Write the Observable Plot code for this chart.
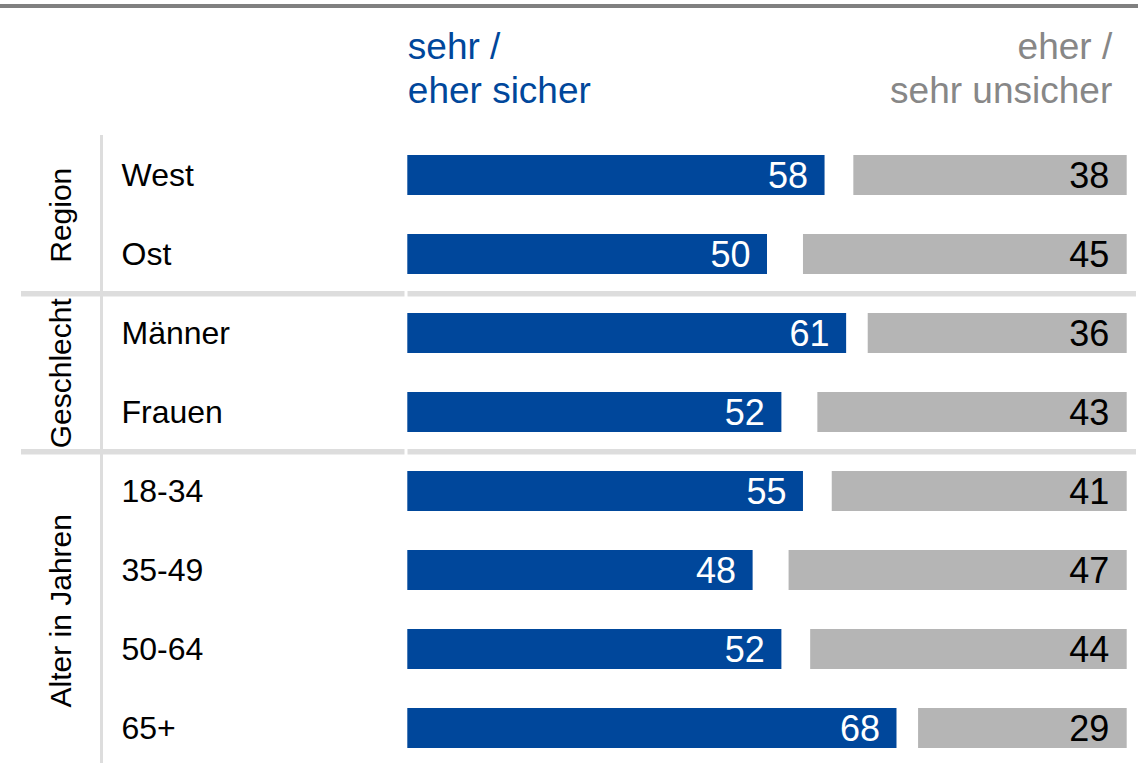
<!DOCTYPE html>
<html><head><meta charset="utf-8">
<script src="https://cdn.jsdelivr.net/npm/d3@7"></script>
<script src="https://cdn.jsdelivr.net/npm/@observablehq/plot@0.6"></script>
<style>
body{margin:0;background:#fff;}
#wrap{position:relative;width:1143px;height:763px;overflow:hidden;}
#topline{position:absolute;left:0;top:4px;width:1138px;height:3.5px;background:#808080;}
#chart svg{position:absolute;left:0;top:0;}
</style></head><body>
<div id="wrap"><div id="topline"></div><div id="chart"></div></div>
<script>
const categories = ["West","Ost","Männer","Frauen","18-34","35-49","50-64","65+"];
const sicher = [58,50,61,52,55,48,52,68];
const unsicher = [38,45,36,43,41,47,44,29];
const groups = ["Region","Geschlecht","Alter in Jahren"];
const groupFirst = ["West","Männer","18-34"];
const groupSize = [2,2,4];
const headerSicher = "sehr /\neher sicher";
const headerUnsicher = "eher /\nsehr unsicher";

const rows = categories.map((c,i)=>({cat:c, pos:sicher[i], neg:unsicher[i]}));
const yRange = [133.5, 769.5];
const step = (yRange[1]-yRange[0])/categories.length;
const blue = "#00479b", gray = "#b5b5b5", sep = "#dddddd", headGray = "#878787";
const font = "'Liberation Sans', Arial, sans-serif";

const chart = Plot.plot({
  width: 1143, height: 763,
  marginTop: 135, marginBottom: 0, marginLeft: 0, marginRight: 0,
  style: {fontFamily: font, background: "transparent", overflow: "visible"},
  x: {domain: [0, 100], range: [407.3, 1126.7], axis: null},
  y: {domain: categories, range: yRange, paddingInner: 0.5, paddingOuter: 0.25, axis: null},
  marks: [
    Plot.ruleY(groupFirst.slice(1), {dy: -step/2, stroke: sep, strokeWidth: 5.5, insetLeft: 21, insetRight: 1143-404.5}),
    Plot.ruleY(groupFirst.slice(1), {dy: -step/2, stroke: sep, strokeWidth: 5.5, insetLeft: 407.5, insetRight: 7}),
    Plot.ruleX([0], {dx: -306.3, stroke: sep, strokeWidth: 3}),
    ...groups.map((g,i)=>Plot.text([g], {
      text: d=>d, y: [groupFirst[i]], dy: (groupSize[i]-1)*step/2,
      frameAnchor: "left", dx: 61, rotate: -90, textAnchor: "middle", lineAnchor: "middle",
      fontSize: 30, fill: "#000"
    })),
    Plot.text(categories, {text: d=>d, y: d=>d, frameAnchor: "left", dx: 121, textAnchor: "start", fontSize: 32, fill: "#000"}),
    Plot.barX(rows, {x1: 0, x2: "pos", y: "cat", fill: blue}),
    Plot.barX(rows, {x1: d=>100-d.neg, x2: 100, y: "cat", fill: gray}),
    Plot.text(rows, {x: "pos", y: "cat", text: d=>String(d.pos), textAnchor: "end", dx: -17, dy: 1, fill: "#fff", fontSize: 36}),
    Plot.text(rows, {x: 100, y: "cat", text: d=>String(d.neg), textAnchor: "end", dx: -18, dy: 1, fill: "#000", fontSize: 36}),
    Plot.text([headerSicher], {text: d=>d, x: 0, frameAnchor: "top", textAnchor: "start", lineAnchor: "top", dy: 27-135, lineHeight: 1.2, fill: blue, fontSize: 37}),
    Plot.text([headerUnsicher], {text: d=>d, x: 100, frameAnchor: "top", textAnchor: "end", lineAnchor: "top", dx: -15, dy: 27-135, lineHeight: 1.2, fill: headGray, fontSize: 37})
  ]
});
document.getElementById("chart").appendChild(chart);
</script>
</body></html>
